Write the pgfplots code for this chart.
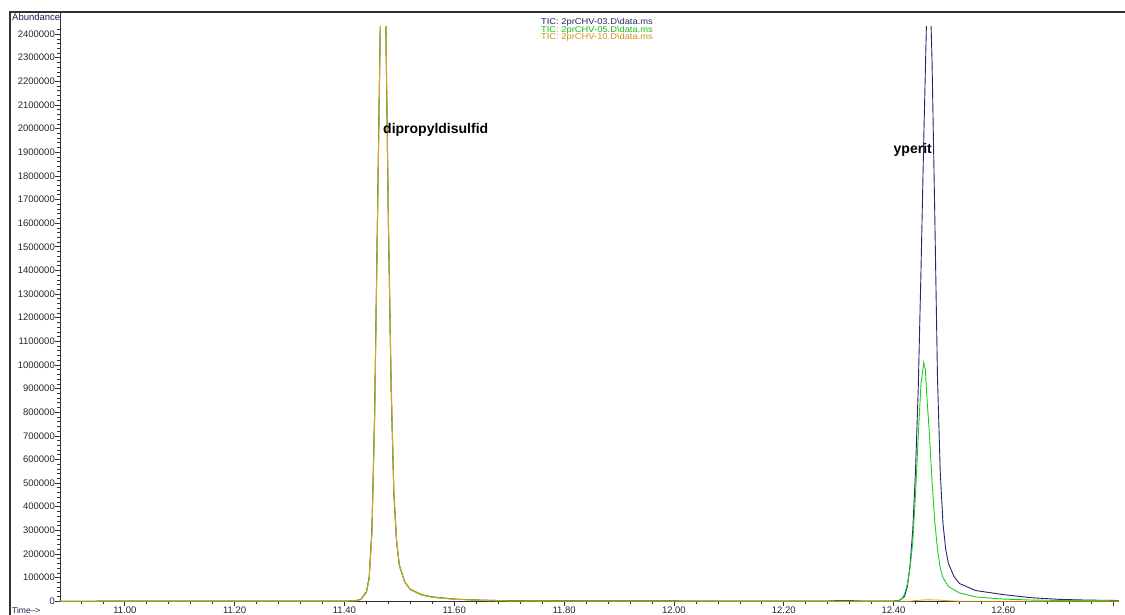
\documentclass[border=0pt]{standalone}
\usepackage{pgfplots}
\pgfplotsset{compat=1.18}
\usepackage{fontspec}
\setmainfont{Liberation Sans}
\definecolor{cblue}{RGB}{40,36,110}
\definecolor{cgreen}{RGB}{30,205,30}
\definecolor{corange}{RGB}{232,160,20}
\definecolor{cframe}{RGB}{50,50,50}
\begin{document}
\begin{tikzpicture}
\begin{axis}[
  at={(0pt,0pt)}, anchor=south west,
  scale only axis, width=1058.7pt, height=574.7pt,
  xmin=10.882, xmax=12.81, ymin=-2000, ymax=2430000,
  axis x line=bottom, axis y line=left,
  axis line style={cframe, line width=0.8pt, -},
  tick align=outside,
  major tick length=4.5pt, minor tick length=2.5pt,
  tick style={cframe, line width=0.6pt},
  xtick={11.0,11.2,11.4,11.6,11.8,12.0,12.2,12.4,12.6,12.8},
  xticklabels={11.00,11.20,11.40,11.60,11.80,12.00,12.20,12.40,12.60,{}},
  minor xtick={10.92,10.96,...,12.81},
  scaled y ticks=false,
  ytick={0,100000,...,2400000},
  minor ytick={0,20000,...,2420000},
  /pgf/number format/assume math mode=true,
  yticklabel={\pgfmathprintnumber[fixed,precision=0,1000 sep={}]{\tick}},
  yticklabel style={font=\fontsize{9.5}{10}\selectfont, inner sep=0.5pt, text=black!85},
  xticklabel style={font=\fontsize{9.5}{10}\selectfont, inner sep=0pt, text=black!85},
  clip=true,
  every axis plot/.append style={line width=0.9pt, sharp plot, no marks},
]
% blue 03
\addplot[cblue] coordinates {
(10.882,0) (11.20,500) (11.40,500) (11.42,2000) (11.43,8000) (11.44,40000) (11.445,100000)
(11.45,300000) (11.455,800000) (11.46,1600000) (11.465,2400000) (11.47,2900000)
(11.475,2500000) (11.48,1600000) (11.485,900000) (11.49,450000) (11.495,250000)
(11.50,150000) (11.51,80000) (11.52,50000) (11.54,28000) (11.56,18000) (11.60,9000)
(11.65,4000) (11.70,2500) (11.80,1500) (11.90,1500) (12.00,1200) (12.10,800) (12.28,800)
(12.30,3000) (12.32,3000) (12.34,800) (12.40,1000) (12.41,3000) (12.42,20000) (12.425,60000)
(12.43,150000) (12.435,300000) (12.44,550000) (12.445,900000) (12.45,1400000)
(12.455,1950000) (12.46,2450000) (12.463,2600000) (12.467,2550000) (12.47,2300000)
(12.475,1650000) (12.48,950000) (12.485,550000) (12.49,330000) (12.495,220000)
(12.50,160000) (12.51,105000) (12.52,75000) (12.55,45000) (12.60,28000) (12.65,15000)
(12.70,8000) (12.75,5000) (12.81,3000)
};
% green 05
\addplot[cgreen] coordinates {
(10.882,0) (11.20,500) (11.40,500) (11.42,2000) (11.43,8000) (11.44,38000) (11.445,95000)
(11.45,290000) (11.455,780000) (11.46,1580000) (11.465,2380000) (11.47,2900000)
(11.475,2550000) (11.48,1650000) (11.485,950000) (11.49,470000) (11.495,260000)
(11.50,155000) (11.51,82000) (11.52,50000) (11.54,28000) (11.56,18000) (11.60,9000)
(11.65,5000) (11.68,3000) (11.70,2000) (11.80,1500) (11.90,1500) (12.00,1200) (12.10,600)
(12.30,600) (12.40,500) (12.41,2000) (12.415,10000) (12.42,30000) (12.425,70000)
(12.43,140000) (12.435,250000) (12.44,450000) (12.445,700000) (12.45,920000)
(12.455,1010000) (12.458,980000) (12.46,890000) (12.465,720000) (12.47,510000)
(12.475,340000) (12.48,220000) (12.485,140000) (12.49,100000) (12.50,62000)
(12.52,35000) (12.55,18000) (12.60,9000) (12.65,5000) (12.70,3500) (12.81,2000)
};
% orange 10
\addplot[corange] coordinates {
(10.882,0) (11.40,0) (11.42,1500) (11.43,7000) (11.44,36000) (11.445,92000)
(11.45,280000) (11.455,760000) (11.46,1560000) (11.465,2370000) (11.47,2880000)
(11.475,2520000) (11.48,1620000) (11.485,920000) (11.49,460000) (11.495,255000)
(11.50,150000) (11.51,80000) (11.52,48000) (11.54,26000) (11.56,16000) (11.60,8000)
(11.65,3000) (11.70,500) (11.80,0) (12.43,0) (12.44,3000) (12.46,6000) (12.48,5000)
(12.50,2000) (12.52,0) (12.81,0)
};
\end{axis}
% frame
\draw[cframe, line width=1.2pt] (-50pt,-14pt) -- (-50pt,589.7pt) -- (1066pt,589.7pt);
\draw[cframe, line width=0.8pt] (0pt,574.7pt) -- (0pt,589.7pt);
% texts
\node[anchor=north west, inner sep=0pt, font=\fontsize{9.5}{10}\selectfont, text=cblue!80!black] at (-48pt,588pt) {Abundance};
\node[anchor=north west, inner sep=0pt, font=\fontsize{8.5}{9}\selectfont, text=cblue!80!black] at (-48pt,-5pt) {Time-->};
\node[anchor=mid, inner sep=0pt, xscale=1.1, font=\fontsize{8.5}{8}\selectfont, text=cblue] at (537pt,579.7pt) {TIC: 2prCHV-03.D\textbackslash data.ms};
\node[anchor=mid, inner sep=0pt, xscale=1.1, font=\fontsize{8.5}{8}\selectfont, text=cgreen!90!black] at (537pt,572.2pt) {TIC: 2prCHV-05.D\textbackslash data.ms};
\node[anchor=mid, inner sep=0pt, xscale=1.1, font=\fontsize{8.5}{8}\selectfont, text=corange!90!black] at (537pt,564.7pt) {TIC: 2prCHV-10.D\textbackslash data.ms};
\node[anchor=west, inner sep=0pt, font=\bfseries\fontsize{14}{15}\selectfont] at (323pt,471.7pt) {dipropyldisulfid};
\node[anchor=east, inner sep=0pt, font=\bfseries\fontsize{14}{15}\selectfont] at (872pt,451.7pt) {yperit};
\pgfresetboundingbox
\path[use as bounding box] (-60pt,-13.3pt) rectangle (1065pt,601.7pt);
\end{tikzpicture}
\end{document}
